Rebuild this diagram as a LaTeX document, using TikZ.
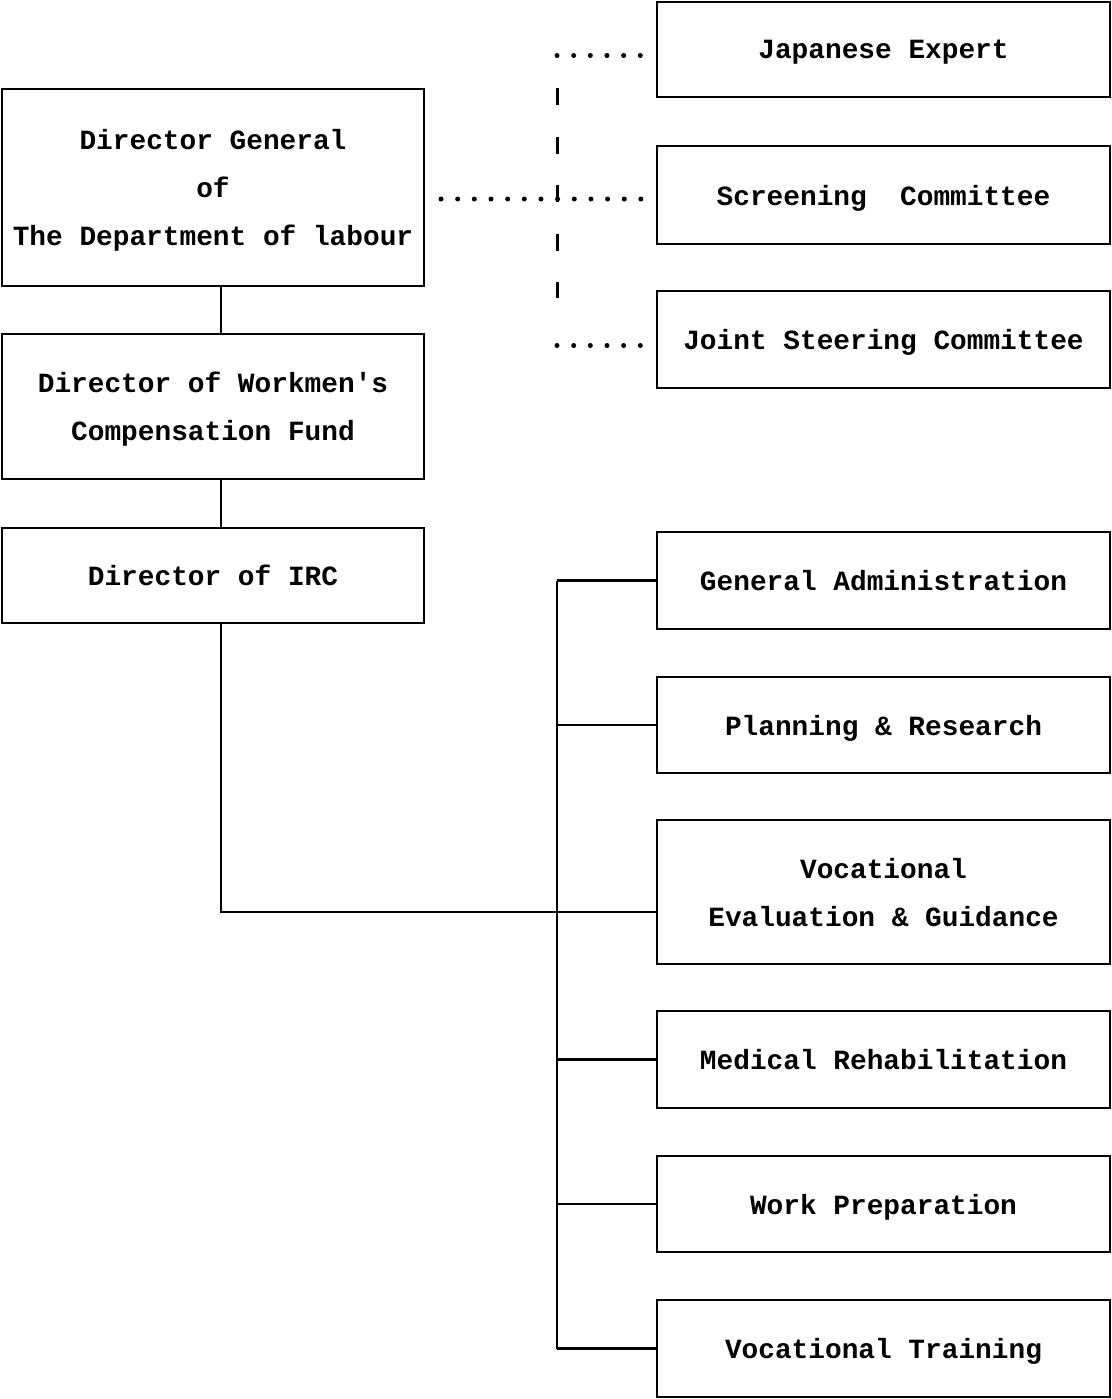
\documentclass[tikz,border=0pt]{standalone}
\usepackage{fontspec}
\usepackage{tikz}
\usetikzlibrary{positioning}
\newfontfamily\chartfont{Liberation Mono}

\begin{document}
\begin{tikzpicture}
  [x=0.5pt,y=-0.5pt,
   box/.style={draw, line width=1.3pt, inner sep=0pt, outer sep=0pt, align=center,
     text depth=0pt, font=\chartfont\bfseries\fontsize{13.9}{24}\selectfont},
   rbox/.style={box, minimum width=226.5pt},
   lbox/.style={box, minimum width=211pt},
   link/.style={line width=1.3pt},
   dots/.style={line width=2.5pt, line cap=round, dash pattern=on 0pt off 8.33pt},
   dashes/.style={line width=1.5pt, dash pattern=on 8.5pt off 15.75pt}]
  \useasboundingbox (0,0) rectangle (1112,1399);

  % advisory bodies
  \node[rbox, minimum height=47.5pt] (jexp) at (883.5,49.5) {Japanese Expert};
  \node[rbox, minimum height=49pt] (scr) at (883.5,195) {Screening~~Committee};
  \node[rbox, minimum height=48.5pt] (jsc) at (883.5,339.5) {Joint Steering Committee};

  % line of command
  \node[lbox, minimum height=98.5pt] (dg) at (213,187.5) {Director General\\of\\The Department of labour};
  \node[lbox, minimum height=72.5pt] (wcf) at (213,406.5) {Director of Workmen's\\Compensation Fund};
  \node[lbox, minimum height=47.5pt] (irc) at (213,575.5) {Director of IRC};

  % sections
  \node[rbox, minimum height=48.5pt] (ga) at (883.5,580.5) {General Administration};
  \node[rbox, minimum height=48pt] (pr) at (883.5,725) {Planning \& Research};
  \node[rbox, minimum height=72pt] (veg) at (883.5,892) {Vocational\\Evaluation \& Guidance};
  \node[rbox, minimum height=48.5pt] (mr) at (883.5,1059.5) {Medical Rehabilitation};
  \node[rbox, minimum height=48pt] (wp) at (883.5,1204) {Work Preparation};
  \node[rbox, minimum height=48.5pt] (vt) at (883.5,1348.5) {Vocational Training};

  \coordinate (bus) at (557,0);
  \coordinate (dtop) at (557,88);
  \coordinate (dbot) at (557,298);

  % dotted advisory links
  \draw[dashes] (dtop) -- (dbot);
  \draw[dots, shorten >=8pt] ([yshift=-3pt]jexp.west -| bus) -- ([yshift=-3pt]jexp.west);
  \draw[dots, shorten <=8.5pt, shorten >=8pt] ([yshift=-2pt]scr.west -| dg.east) -- ([yshift=-2pt]scr.west);
  \draw[dots, shorten >=8pt] ([yshift=-3pt]jsc.west -| bus) -- ([yshift=-3pt]jsc.west);

  % solid links
  \draw[link] ([xshift=4pt]dg.south) -- ([xshift=4pt]wcf.north);
  \draw[link] ([xshift=4pt]wcf.south) -- ([xshift=4pt]irc.north);
  \draw[link] ([xshift=4pt]irc.south) |- ([yshift=-10pt]veg.west);
  \draw[link] (bus |- ga.west) -- (bus |- vt.west);
  \foreach \n in {ga, pr, mr, wp, vt}
    \draw[link] (bus |- \n.west) -- (\n.west);
\end{tikzpicture}
\end{document}
